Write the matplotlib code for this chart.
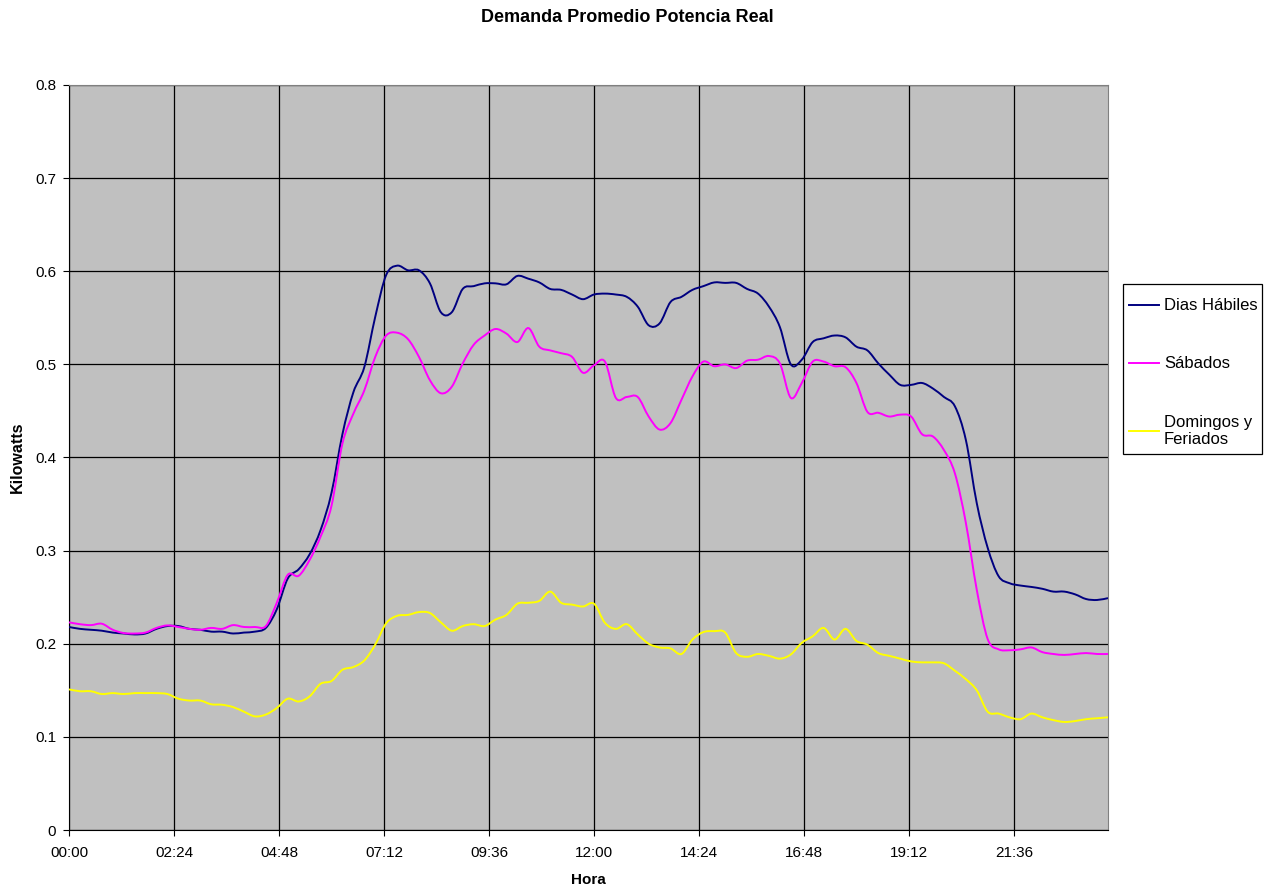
import numpy as np
import matplotlib
matplotlib.use("Agg")
import matplotlib.pyplot as plt
from matplotlib.path import Path
from matplotlib.patches import PathPatch, Rectangle
from matplotlib.lines import Line2D

plt.rcParams['font.family'] = ['Liberation Sans', 'DejaVu Sans']

# =================================================================
# datos: demanda promedio cada 15 minutos (kW), 00:00 .. 23:45
# =================================================================
horas = np.arange(96) * 0.25

dias_habiles = [
    0.218, 0.216, 0.215, 0.214, 0.212, 0.211, 0.210, 0.211, 0.216, 0.219,
    0.219, 0.216, 0.215, 0.213, 0.213, 0.211, 0.212, 0.213, 0.217, 0.237,
    0.270, 0.280, 0.296, 0.322, 0.362, 0.425, 0.470, 0.497, 0.551, 0.596,
    0.606, 0.601, 0.601, 0.587, 0.556, 0.556, 0.581, 0.584, 0.587, 0.587,
    0.586, 0.595, 0.592, 0.588, 0.581, 0.580, 0.575, 0.570, 0.575, 0.576,
    0.575, 0.5725, 0.562, 0.542, 0.544, 0.567, 0.5725, 0.580, 0.584, 0.588,
    0.5875, 0.5875, 0.581, 0.576, 0.562, 0.540, 0.500, 0.505, 0.524, 0.528,
    0.531, 0.529, 0.519, 0.515, 0.501, 0.489, 0.478, 0.478, 0.480, 0.474,
    0.465, 0.455, 0.419, 0.351, 0.303, 0.2725, 0.265, 0.2625, 0.261, 0.259,
    0.256, 0.256, 0.253, 0.248, 0.247, 0.249,
]

sabados = [
    0.223, 0.221, 0.220, 0.2215, 0.215, 0.2115, 0.211, 0.212, 0.217, 0.2197,
    0.218, 0.216, 0.215, 0.217, 0.216, 0.220, 0.218, 0.218, 0.219, 0.244,
    0.274, 0.273, 0.290, 0.315, 0.348, 0.415, 0.447, 0.472, 0.508, 0.531,
    0.534, 0.527, 0.508, 0.483, 0.469, 0.476, 0.501, 0.521, 0.531, 0.538,
    0.533, 0.524, 0.539, 0.519, 0.515, 0.512, 0.508, 0.491, 0.499, 0.503,
    0.464, 0.465, 0.465, 0.444, 0.430, 0.437, 0.462, 0.487, 0.503, 0.498,
    0.500, 0.496, 0.504, 0.505, 0.509, 0.501, 0.464, 0.480, 0.503, 0.503,
    0.498, 0.497, 0.480, 0.449, 0.448, 0.444, 0.446, 0.444, 0.425, 0.4225,
    0.408, 0.383, 0.330, 0.258, 0.205, 0.194, 0.193, 0.194, 0.196, 0.191,
    0.189, 0.188, 0.189, 0.190, 0.189, 0.189,
]

domingos = [
    0.151, 0.149, 0.149, 0.146, 0.147, 0.146, 0.147, 0.147, 0.147, 0.146,
    0.141, 0.139, 0.139, 0.135, 0.1345, 0.132, 0.127, 0.122, 0.124, 0.131,
    0.141, 0.138, 0.1435, 0.157, 0.160, 0.172, 0.175, 0.182, 0.199, 0.222,
    0.230, 0.231, 0.234, 0.233, 0.223, 0.214, 0.219, 0.221, 0.219, 0.226,
    0.231, 0.243, 0.244, 0.246, 0.256, 0.244, 0.242, 0.240, 0.243, 0.2225,
    0.216, 0.221, 0.210, 0.200, 0.196, 0.195, 0.189, 0.2045, 0.2125, 0.2135,
    0.212, 0.190, 0.186, 0.189, 0.187, 0.184, 0.1885, 0.201, 0.208, 0.217,
    0.2045, 0.216, 0.203, 0.199, 0.190, 0.187, 0.184, 0.181, 0.180, 0.180,
    0.179, 0.171, 0.162, 0.150, 0.127, 0.125, 0.121, 0.119, 0.125, 0.121,
    0.118, 0.116, 0.117, 0.119, 0.120, 0.121,
]

series = [
    ('Dias Hábiles', dias_habiles, '#000080'),
    ('Sábados', sabados, '#FF00FF'),
    ('Domingos y\nFeriados', domingos, '#FFFF00'),
]

x_ticks = [0, 2.4, 4.8, 7.2, 9.6, 12.0, 14.4, 16.8, 19.2, 21.6]
x_labels = ['00:00', '02:24', '04:48', '07:12', '09:36', '12:00',
            '14:24', '16:48', '19:12', '21:36']
y_ticks = [0, 0.1, 0.2, 0.3, 0.4, 0.5, 0.6, 0.7, 0.8]
y_labels = ['0', '0.1', '0.2', '0.3', '0.4', '0.5', '0.6', '0.7', '0.8']


def linea_suavizada(x, y):
    """Path Bezier tipo 'linea suavizada' de Excel (pasa por cada punto)."""
    p = np.column_stack([x, y])
    n = len(p)
    verts = [p[0]]
    codes = [Path.MOVETO]
    for i in range(n - 1):
        p0 = p[i - 1] if i > 0 else p[i]
        p3 = p[i + 2] if i + 2 < n else p[i + 1]
        c1 = p[i] + (p[i + 1] - p0) / 6.0
        c2 = p[i + 1] - (p3 - p[i]) / 6.0
        verts += [c1, c2, p[i + 1]]
        codes += [Path.CURVE4] * 3
    return Path(verts, codes)


# =================================================================
# grafico
# =================================================================
fig = plt.figure(figsize=(12.72, 8.9), dpi=100)
ax = fig.add_axes([69 / 1272, 1 - 830 / 890, (1108 - 69) / 1272, (830 - 85) / 890])
ax.set_facecolor('#C0C0C0')

handles = []
for nombre, valores, color in series:
    patch = PathPatch(linea_suavizada(horas, valores), fill=False,
                      edgecolor=color, lw=1.4, transform=ax.transData,
                      clip_on=True, zorder=3)
    ax.add_patch(patch)
    handles.append(Line2D([], [], color=color, lw=1.4, label=nombre))

ax.set_xlim(0, 23.75)
ax.set_ylim(0, 0.8)
ax.set_xticks(x_ticks)
ax.set_xticklabels(x_labels)
ax.set_yticks(y_ticks)
ax.set_yticklabels(y_labels)
ax.tick_params(axis='both', direction='out', length=4.2, labelsize=11, colors='black')
ax.tick_params(axis='x', pad=7.5)
ax.tick_params(axis='y', pad=5)
ax.grid(True, color='black', lw=0.9)
ax.set_axisbelow(True)

for s in ['left', 'bottom']:
    ax.spines[s].set_color('black')
for s in ['top', 'right']:
    ax.spines[s].set_color('#808080')

ax.set_xlabel('Hora', fontsize=11, fontweight='bold', va='center')
ax.xaxis.set_label_coords(0.5, (830 - 880) / 745)
ax.set_ylabel('Kilowatts', fontsize=11.5, fontweight='bold', va='center')
ax.yaxis.set_label_coords((17.7 - 69) / 1039, 0.5)
fig.text(627 / 1272, 1 - 17 / 890, 'Demanda Promedio Potencia Real',
         fontsize=13, fontweight='bold', ha='center', va='center')

# leyenda: marco dibujado aparte
fig.patches.append(Rectangle((1122.7 / 1272, 1 - 454 / 890), (1261.7 - 1122.7) / 1272,
                             (454 - 284.3) / 890, transform=fig.transFigure,
                             fill=False, edgecolor='black', lw=0.9))
fig.legend(handles=handles, loc='upper left',
           bbox_to_anchor=(1129 / 1272, 1 - 298.5 / 890),
           borderaxespad=0, borderpad=0, frameon=False, fontsize=12,
           handlelength=1.8, handletextpad=0.3, labelspacing=2.58)

fig.savefig('out.png', dpi=100)
